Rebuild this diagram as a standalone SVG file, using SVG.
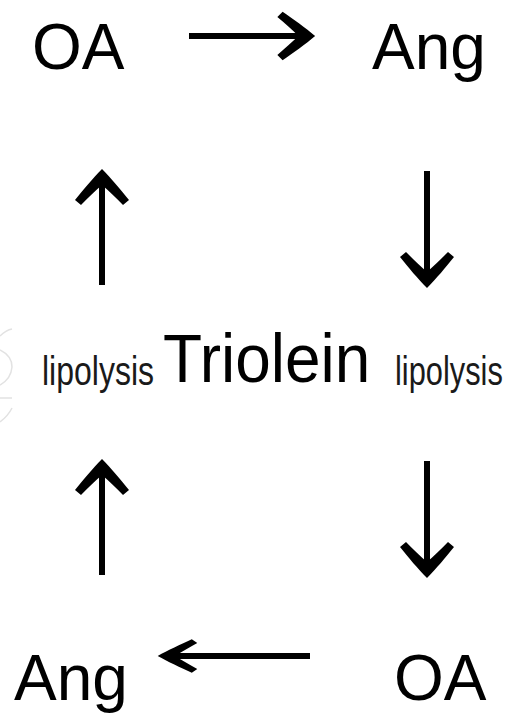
<svg xmlns="http://www.w3.org/2000/svg" xmlns:xlink="http://www.w3.org/1999/xlink" width="512" height="713" viewBox="0 0 512 713">
<style>
.big{font-family:"Liberation Sans",Arial,Helvetica,sans-serif;font-size:64px;fill:#000}
.tri{font-family:"Liberation Sans",Arial,Helvetica,sans-serif;font-size:68px;fill:#000}
.small{font-family:"Liberation Sans",Arial,Helvetica,sans-serif;font-size:40px;fill:#1a1a1a}
.ln{stroke:#000;stroke-width:6;fill:none}
.hd{fill:#000}
.faint{stroke:#e2e2e2;stroke-width:1.5;fill:none}
</style>
<defs>
<path id="head" d="M3,0 C-6,-9 -18,-19 -28,-27 L-33,-21 C-25,-13 -19,-7 -13,0 C-19,7 -25,13 -33,21 L-28,27 C-18,19 -6,9 3,0 Z"/>
</defs>
<rect width="512" height="713" fill="#fff"/>
<g id="watermark">
<path class="faint" d="M0,336 Q6,330 12,329"/>
<path class="faint" d="M0,350 Q12,356 12,367 Q11,379 0,385"/>
<path class="faint" d="M0,398 L12,398"/>
<path class="faint" d="M0,422 Q8,416 12,408"/>
</g>
<g id="connectors">
<g id="arrow-top">
<line class="ln" x1="189" y1="36" x2="306" y2="36"/>
<use xlink:href="#head" class="hd" transform="translate(312,36) scale(1.05,0.9)"/>
</g>
<g id="arrow-right-upper">
<line class="ln" x1="427" y1="171" x2="427" y2="280"/>
<use xlink:href="#head" class="hd" transform="translate(427,285) rotate(90)"/>
</g>
<g id="arrow-right-lower">
<line class="ln" x1="427" y1="461" x2="427" y2="570"/>
<use xlink:href="#head" class="hd" transform="translate(427,575) rotate(90)"/>
</g>
<g id="arrow-bottom">
<line class="ln" x1="310" y1="656" x2="167" y2="656"/>
<use xlink:href="#head" class="hd" transform="translate(161,656) rotate(180) scale(1.1,0.62)"/>
</g>
<g id="arrow-left-lower">
<line class="ln" x1="102" y1="575" x2="102" y2="467"/>
<use xlink:href="#head" class="hd" transform="translate(102,462) rotate(-90)"/>
</g>
<g id="arrow-left-upper">
<line class="ln" x1="102" y1="285" x2="102" y2="177"/>
<use xlink:href="#head" class="hd" transform="translate(102,172) rotate(-90)"/>
</g>
</g>
<g id="node-OA-top"><text class="big" x="32" y="69">OA</text></g>
<g id="node-Ang-top"><text class="big" x="372" y="69">Ang</text></g>
<g id="node-lipolysis-left"><text class="small" transform="translate(42,385) scale(0.8,1)">lipolysis</text></g>
<g id="node-Triolein"><text class="tri" transform="translate(163,382) scale(0.94,1)">Triolein</text></g>
<g id="node-lipolysis-right"><text class="small" transform="translate(395,385) scale(0.77,1)">lipolysis</text></g>
<g id="node-Ang-bottom"><text class="big" x="14" y="700">Ang</text></g>
<g id="node-OA-bottom"><text class="big" x="394" y="700">OA</text></g>
</svg>
